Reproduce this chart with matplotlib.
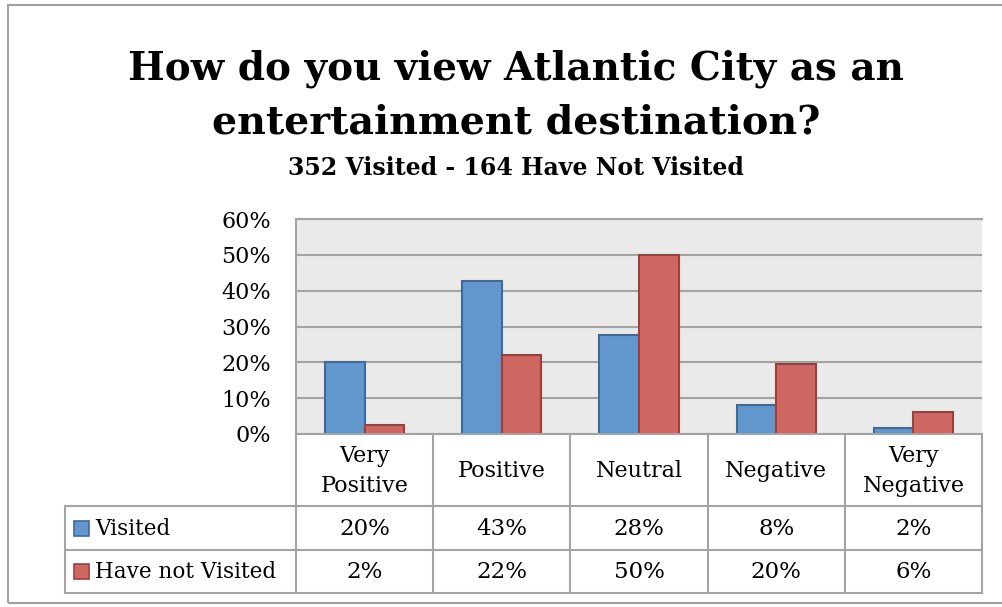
import matplotlib
matplotlib.use("Agg")
import matplotlib.pyplot as plt
import numpy as np
from matplotlib.patches import Rectangle

categories = ["Very\nPositive", "Positive", "Neutral", "Negative", "Very\nNegative"]
series_names = ["Visited", "Have not Visited"]
visited = [20.1, 42.7, 27.6, 8.0, 1.8]
not_visited = [2.4, 22.0, 50.0, 19.6, 6.1]
yticks = [0, 10, 20, 30, 40, 50, 60]

title_lines = ["How do you view Atlantic City as an", "entertainment destination?"]
subtitle = "352 Visited - 164 Have Not Visited"

blue, blue_edge = "#6197CD", "#3D6A9C"
red, red_edge = "#CE6661", "#9E3F3B"
grid_col = "#A3A3A3"

plt.rcParams['font.family'] = ['DejaVu Serif']

W, H = 1003, 607
fig = plt.figure(figsize=(W / 100, H / 100), dpi=100)


def fx(px):
    return px / W


def fy(py):
    return 1 - py / H


# outer chart border (right edge runs off the image)
fig.patches.append(Rectangle((fx(8), fy(603)), fx(1006) - fx(8), fy(5) - fy(603),
                             transform=fig.transFigure, fill=False,
                             edgecolor="#A0A0A0", linewidth=1.5, clip_on=False))

# titles
fig.text(fx(516), fy(79), title_lines[0], ha="center", va="baseline",
         fontsize=28, fontweight="bold")
fig.text(fx(516), fy(134), title_lines[1], ha="center", va="baseline",
         fontsize=28.5, fontweight="bold")
fig.text(fx(516), fy(175), subtitle, ha="center", va="baseline",
         fontsize=17, fontweight="bold")

# plot area
left, right, top, base = 296, 982, 219, 434
ax = fig.add_axes([fx(left), fy(base), fx(right) - fx(left), fy(top) - fy(base)])
ax.set_facecolor("#EAEAEA")
x = np.arange(len(categories))
bw = 0.288
ax.bar(x - bw / 2, visited, bw, color=blue, edgecolor=blue_edge, linewidth=1.5, zorder=3)
ax.bar(x + bw / 2, not_visited, bw, color=red, edgecolor=red_edge, linewidth=1.5, zorder=3)
ax.set_xlim(-0.5, len(categories) - 0.5)
ax.set_ylim(0, 60)
ax.set_yticks(yticks)
ax.set_yticklabels([f"{t}%" for t in yticks], fontsize=16)
ax.tick_params(axis="y", length=0, pad=18)
ax.set_xticks([])
ax.yaxis.grid(True, color=grid_col, linewidth=1.5, zorder=0)
ax.set_axisbelow(True)
for s in ["right", "bottom"]:
    ax.spines[s].set_visible(False)
for s in ["left", "top"]:
    ax.spines[s].set_color(grid_col)
    ax.spines[s].set_linewidth(1.5)

# data table below the plot
tleft, tbottom = 65, 593
row_h = [72, 44, 43]  # header, visited, not visited (top to bottom)
cw = (right - left) / len(categories)
leg_w = (left - tleft) / cw
tax = fig.add_axes([fx(tleft), fy(tbottom), fx(right) - fx(tleft), fy(base) - fy(tbottom)])
tax.set_xlim(-0.5 - leg_w, len(categories) - 0.5)
tax.set_ylim(sum(row_h), 0)
tax.axis("off")

lc = dict(color=grid_col, linewidth=1.5, clip_on=False)
y0, y1, y2, y3 = 0, row_h[0], row_h[0] + row_h[1], sum(row_h)
tax.plot([-0.5, len(categories) - 0.5], [y0, y0], **lc)
for yy in (y1, y2, y3):
    tax.plot([-0.5 - leg_w, len(categories) - 0.5], [yy, yy], **lc)
for i in range(len(categories) + 1):
    tax.plot([i - 0.5, i - 0.5], [y0, y3], **lc)
tax.plot([-0.5 - leg_w] * 2, [y1, y3], **lc)

for i, c in enumerate(categories):
    tax.text(i, (y0 + y1) / 2 + 1, c, ha="center", va="center", fontsize=16,
             linespacing=1.45)
for r, (name, vals, col, ec) in enumerate(zip(series_names, [visited, not_visited],
                                              [blue, red], [blue_edge, red_edge])):
    ym = (y1 + y2) / 2 if r == 0 else (y2 + y3) / 2
    for i, v in enumerate(vals):
        tax.text(i, ym + 1, f"{round(v)}%", ha="center", va="center", fontsize=16.5)
    sq = 15 / cw
    tax.add_patch(Rectangle((-0.5 - leg_w + 9 / cw, ym - 7.5), sq, 15,
                            facecolor=col, edgecolor=ec, linewidth=1.2, clip_on=False))
    tax.text(-0.5 - leg_w + 30 / cw, ym + 1, name, ha="left", va="center", fontsize=15.5)

fig.savefig("out.png", dpi=100)
